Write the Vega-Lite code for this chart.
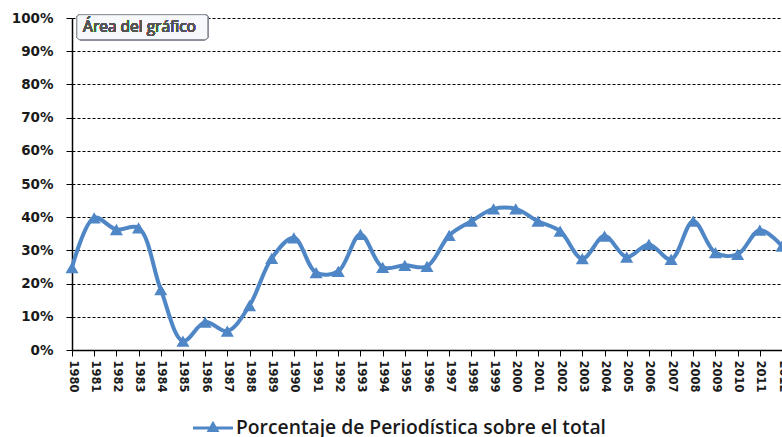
{
  "$schema": "https://vega.github.io/schema/vega-lite/v6.json",
  "autosize": {"type": "none"},
  "padding": {"left": 72, "top": 18, "right": 0, "bottom": 87},
  "width": 710,
  "height": 332,
  "background": "white",
  "config": {
    "view": {"stroke": null},
    "font": "Lato",
    "axis": {"labelOverlap": false, "labelBound": false, "labelFlush": false}
  },
  "data": {
    "values": [
      {"year": 1980, "value": 0.248, "serie": "Porcentaje de Periodística sobre el total"},
      {"year": 1981, "value": 0.398, "serie": "Porcentaje de Periodística sobre el total"},
      {"year": 1982, "value": 0.363, "serie": "Porcentaje de Periodística sobre el total"},
      {"year": 1983, "value": 0.368, "serie": "Porcentaje de Periodística sobre el total"},
      {"year": 1984, "value": 0.182, "serie": "Porcentaje de Periodística sobre el total"},
      {"year": 1985, "value": 0.027, "serie": "Porcentaje de Periodística sobre el total"},
      {"year": 1986, "value": 0.084, "serie": "Porcentaje de Periodística sobre el total"},
      {"year": 1987, "value": 0.057, "serie": "Porcentaje de Periodística sobre el total"},
      {"year": 1988, "value": 0.134, "serie": "Porcentaje de Periodística sobre el total"},
      {"year": 1989, "value": 0.276, "serie": "Porcentaje de Periodística sobre el total"},
      {"year": 1990, "value": 0.338, "serie": "Porcentaje de Periodística sobre el total"},
      {"year": 1991, "value": 0.233, "serie": "Porcentaje de Periodística sobre el total"},
      {"year": 1992, "value": 0.237, "serie": "Porcentaje de Periodística sobre el total"},
      {"year": 1993, "value": 0.348, "serie": "Porcentaje de Periodística sobre el total"},
      {"year": 1994, "value": 0.249, "serie": "Porcentaje de Periodística sobre el total"},
      {"year": 1995, "value": 0.255, "serie": "Porcentaje de Periodística sobre el total"},
      {"year": 1996, "value": 0.252, "serie": "Porcentaje de Periodística sobre el total"},
      {"year": 1997, "value": 0.345, "serie": "Porcentaje de Periodística sobre el total"},
      {"year": 1998, "value": 0.388, "serie": "Porcentaje de Periodística sobre el total"},
      {"year": 1999, "value": 0.425, "serie": "Porcentaje de Periodística sobre el total"},
      {"year": 2000, "value": 0.425, "serie": "Porcentaje de Periodística sobre el total"},
      {"year": 2001, "value": 0.388, "serie": "Porcentaje de Periodística sobre el total"},
      {"year": 2002, "value": 0.358, "serie": "Porcentaje de Periodística sobre el total"},
      {"year": 2003, "value": 0.275, "serie": "Porcentaje de Periodística sobre el total"},
      {"year": 2004, "value": 0.343, "serie": "Porcentaje de Periodística sobre el total"},
      {"year": 2005, "value": 0.280, "serie": "Porcentaje de Periodística sobre el total"},
      {"year": 2006, "value": 0.318, "serie": "Porcentaje de Periodística sobre el total"},
      {"year": 2007, "value": 0.273, "serie": "Porcentaje de Periodística sobre el total"},
      {"year": 2008, "value": 0.388, "serie": "Porcentaje de Periodística sobre el total"},
      {"year": 2009, "value": 0.293, "serie": "Porcentaje de Periodística sobre el total"},
      {"year": 2010, "value": 0.288, "serie": "Porcentaje de Periodística sobre el total"},
      {"year": 2011, "value": 0.361, "serie": "Porcentaje de Periodística sobre el total"},
      {"year": 2012, "value": 0.313, "serie": "Porcentaje de Periodística sobre el total"}
    ]
  },
  "encoding": {
    "x": {
      "field": "year", "type": "quantitative",
      "scale": {"domain": [1980, 2012], "nice": false, "zero": false},
      "axis": {
        "title": null,
        "values": [1980,1981,1982,1983,1984,1985,1986,1987,1988,1989,1990,1991,1992,1993,1994,1995,1996,1997,1998,1999,2000,2001,2002,2003,2004,2005,2006,2007,2008,2009,2010,2011,2012],
        "format": "d",
        "labelAngle": 90,
        "labelAlign": "left",
        "labelBaseline": "middle",
        "labelFont": "DejaVu Sans",
        "labelFontSize": 11.5,
        "labelFontWeight": "bold",
        "labelColor": "#1a1a1a",
        "labelPadding": 4,
        "labelOverlap": false,
        "tickColor": "#000",
        "tickSize": 6,
        "domainColor": "#000",
        "domainWidth": 1.5,
        "grid": false
      }
    },
    "y": {
      "field": "value", "type": "quantitative",
      "scale": {"domain": [0, 1], "nice": false},
      "axis": {
        "title": null,
        "values": [0,0.1,0.2,0.3,0.4,0.5,0.6,0.7,0.8,0.9,1],
        "format": ".0%",
        "labelFont": "DejaVu Sans",
        "labelFontSize": 13.5,
        "labelFontWeight": "bold",
        "labelColor": "#1a1a1a",
        "labelPadding": 13,
        "labelOverlap": false,
        "tickColor": "#000",
        "tickSize": 6,
        "domainColor": "#000",
        "domainWidth": 1.5,
        "grid": true,
        "gridColor": "#000",
        "gridDash": [3, 2],
        "gridWidth": 1
      }
    },
    "color": {
      "field": "serie", "type": "nominal",
      "scale": {"range": ["#4F86C6"]},
      "legend": {
        "title": null,
        "orient": "none",
        "legendX": 121,
        "legendY": 390,
        "symbolType": "M-1,-0.08L1,-0.08L1,0.08L-1,0.08Z M0,-0.36L0.32,0.2L-0.32,0.2Z",
        "symbolSize": 1600,
        "symbolStrokeWidth": 0,
        "symbolFillColor": "#4F86C6",
        "labelFont": "Open Sans",
        "labelFontSize": 19.3,
        "labelFontWeight": 600,
        "labelColor": "#1a1a1a",
        "labelOffset": 3,
        "labelLimit": 700
      }
    }
  },
  "layer": [
    {
      "mark": {"type": "line", "interpolate": "catmull-rom", "strokeWidth": 4, "clip": false}
    },
    {
      "mark": {"type": "point", "shape": "triangle-up", "filled": true, "size": 170, "opacity": 1, "clip": false}
    },
    {
      "mark": {"type": "rect", "fill": "#f7f8fb", "stroke": "#8a8f99", "strokeWidth": 1, "cornerRadius": 3, "clip": false},
      "encoding": {
        "x": {"datum": 1980.22},
        "x2": {"datum": 1986.12},
        "y": {"datum": 1.01},
        "y2": {"datum": 0.935},
        "color": null
      }
    },
    {
      "mark": {"type": "text", "text": "Área del gráfico", "align": "left", "baseline": "middle", "fontSize": 15.5, "font": "Open Sans", "fontWeight": "normal", "fill": "#555", "clip": false},
      "encoding": {
        "x": {"datum": 1980.5},
        "y": {"datum": 0.972},
        "color": null
      }
    }
  ]
}
